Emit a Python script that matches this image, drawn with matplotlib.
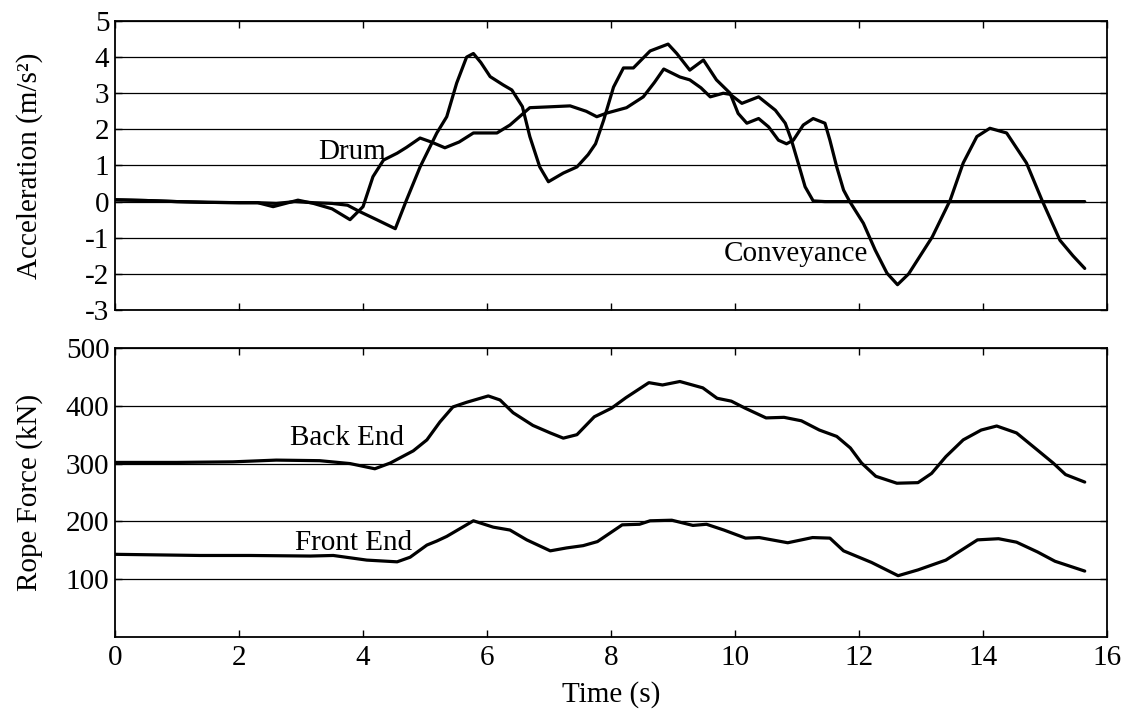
import matplotlib
matplotlib.use("Agg")
from matplotlib import pyplot as plt

# top panel: acceleration (m/s^2)
drum_t = [0, 0.5, 1.0, 1.5, 2.0, 2.3, 2.55, 2.75, 2.95, 3.2, 3.5, 3.79, 4.0, 4.16,
          4.33, 4.55, 4.7, 4.92, 5.1, 5.32, 5.55, 5.78, 6.16, 6.37, 6.69, 6.96, 7.34,
          7.6, 7.77, 7.93, 8.25, 8.52, 8.7, 8.85, 9.11, 9.27, 9.45, 9.6, 9.81, 9.92,
          10.11, 10.38, 10.65, 10.81, 10.91, 11.02, 11.13, 11.26, 11.45, 15.64]
drum_a = [0.05, 0.03, 0.0, -0.02, -0.03, -0.03, -0.14, -0.05, 0.04, -0.05, -0.2, -0.5,
          -0.14, 0.69, 1.15, 1.34, 1.5, 1.76, 1.65, 1.49, 1.65, 1.9, 1.9, 2.12, 2.6,
          2.62, 2.65, 2.5, 2.35, 2.45, 2.6, 2.9, 3.3, 3.67, 3.45, 3.37, 3.15, 2.9, 3.0,
          2.97, 2.72, 2.9, 2.53, 2.17, 1.7, 1.06, 0.41, 0.02, 0.0, 0.0]

conv_t = [0, 0.5, 1.0, 1.5, 2.0, 2.3, 2.6, 2.9, 3.2, 3.5, 3.75, 3.95, 4.22, 4.52, 4.7,
          4.92, 5.19, 5.35, 5.51, 5.67, 5.78, 5.9, 6.05, 6.26, 6.4, 6.57, 6.69, 6.85,
          6.99, 7.23, 7.45, 7.63, 7.75, 7.88, 8.04, 8.2, 8.36, 8.63, 8.92, 9.06, 9.27,
          9.49, 9.7, 9.92, 10.05, 10.19, 10.38, 10.54, 10.7, 10.83, 10.94, 11.1, 11.26,
          11.45, 11.53, 11.64, 11.75, 11.85, 12.07, 12.26, 12.45, 12.62, 12.8, 13.18,
          13.47, 13.68, 13.9, 14.11, 14.38, 14.7, 14.95, 15.24, 15.45, 15.64]
conv_a = [0.05, 0.03, 0.0, -0.02, -0.03, -0.03, -0.05, 0.0, -0.03, -0.05, -0.1, -0.28,
          -0.5, -0.75, 0.04, 0.96, 1.9, 2.35, 3.28, 4.0, 4.1, 3.85, 3.46, 3.23, 3.09,
          2.63, 1.8, 0.96, 0.55, 0.79, 0.96, 1.3, 1.6, 2.25, 3.17, 3.7, 3.7, 4.17, 4.36,
          4.1, 3.64, 3.92, 3.37, 3.0, 2.44, 2.17, 2.3, 2.07, 1.7, 1.6, 1.7, 2.12, 2.3,
          2.17, 1.7, 0.96, 0.32, 0.0, -0.6, -1.34, -1.98, -2.3, -2.0, -0.98, 0.04, 1.07,
          1.8, 2.03, 1.9, 1.07, 0.04, -1.07, -1.5, -1.85]

# bottom panel: rope force (kN)
back_t = [0, 1.0, 1.9, 2.6, 3.3, 3.79, 4.19, 4.44, 4.81, 5.03, 5.24, 5.45, 5.67, 6.02,
          6.21, 6.42, 6.74, 7.02, 7.23, 7.45, 7.73, 8.01, 8.24, 8.61, 8.83, 9.11, 9.48,
          9.71, 9.94, 10.16, 10.5, 10.79, 11.07, 11.36, 11.64, 11.86, 12.04, 12.27,
          12.61, 12.95, 13.17, 13.4, 13.68, 13.97, 14.22, 14.54, 14.87, 15.13, 15.33,
          15.64]
back_f = [302, 302, 303, 306, 305, 300, 291, 301, 322, 341, 372, 398, 406, 417, 410,
          388, 366, 353, 344, 350, 381, 396, 414, 440, 436, 442, 431, 413, 408, 396,
          379, 380, 374, 358, 347, 327, 301, 278, 266, 267, 283, 312, 341, 358, 365,
          353, 324, 301, 281, 268]

front_t = [0, 1.37, 2.18, 3.15, 3.52, 4.06, 4.55, 4.76, 5.03, 5.19, 5.35, 5.78, 6.1,
           6.37, 6.64, 7.02, 7.28, 7.55, 7.78, 8.18, 8.46, 8.63, 8.98, 9.32, 9.54, 9.82,
           10.17, 10.39, 10.85, 11.25, 11.53, 11.75, 12.2, 12.63, 12.95, 13.4, 13.91,
           14.25, 14.54, 14.88, 15.16, 15.64]
front_f = [143, 141, 141, 140, 141, 133, 130, 138, 159, 166, 174, 201, 190, 185, 168,
           149, 154, 158, 165, 194, 195, 201, 202, 193, 195, 185, 171, 172, 163, 172,
           171, 149, 129, 106, 116, 133, 168, 170, 164, 147, 131, 114]

acc_ticks = [-3, -2, -1, 0, 1, 2, 3, 4, 5]
force_ticks = [100, 200, 300, 400, 500]
time_ticks = [0, 2, 4, 6, 8, 10, 12, 14, 16]

plt.rcParams['font.family'] = ['Liberation Serif', 'DejaVu Serif']
plt.rcParams['font.size'] = 21

fig = plt.figure(figsize=(11.3, 7.09), dpi=100)
ax1 = fig.add_axes([0.1018, 0.5628, 0.8779, 0.4076])
ax2 = fig.add_axes([0.1018, 0.1016, 0.8779, 0.4076])

line_kw = dict(color='black', lw=2.3, solid_joinstyle='round', solid_capstyle='round')

ax1.plot(drum_t, drum_a, **line_kw)
ax1.plot(conv_t, conv_a, **line_kw)
ax1.set_xlim(0, 16)
ax1.set_ylim(-3, 5)
ax1.set_yticks(acc_ticks)
ax1.set_yticklabels([str(v) for v in acc_ticks])
ax1.set_xticks(time_ticks)
ax1.tick_params(labelbottom=False)
ax1.set_ylabel('Acceleration (m/s²)')
ax1.text(3.27, 1.18, 'Drum')
ax1.text(9.82, -1.65, 'Conveyance')

ax2.plot(back_t, back_f, **line_kw)
ax2.plot(front_t, front_f, **line_kw)
ax2.set_xlim(0, 16)
ax2.set_ylim(0, 500)
ax2.set_yticks(force_ticks)
ax2.set_xticks(time_ticks)
ax2.set_ylabel('Rope Force (kN)')
ax2.set_xlabel('Time (s)', labelpad=7)
ax2.text(2.82, 332, 'Back End')
ax2.text(2.9, 151, 'Front End')

for ax in (ax1, ax2):
    ax.grid(axis='y', color='black', lw=0.9)
    ax.set_axisbelow(True)
    ax.tick_params(direction='in', length=5, width=1, top=True, right=True, pad=6)
    ax.tick_params(axis='y', pad=4)
    for s in ax.spines.values():
        s.set_linewidth(1.3)
    ax.yaxis.set_label_coords(-0.073, 0.5)

fig.savefig('out.png', dpi=100)
